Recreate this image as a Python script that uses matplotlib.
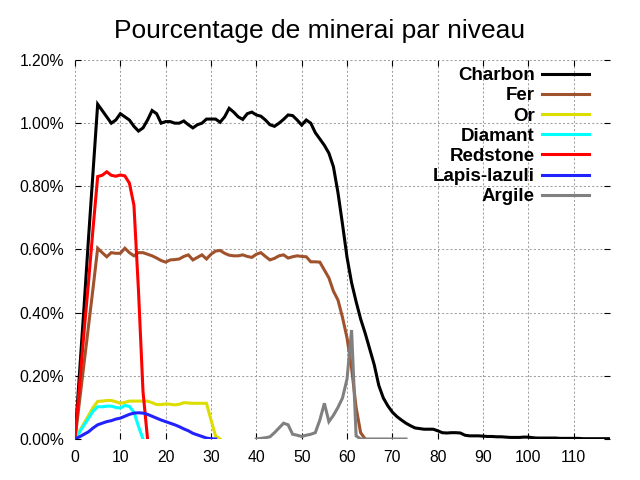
import numpy as np
import matplotlib
matplotlib.use("Agg")
import matplotlib.pyplot as plt
from matplotlib.ticker import FuncFormatter, MultipleLocator

plt.rcParams['font.family'] = ['Liberation Sans', 'DejaVu Sans']

# pourcentage par niveau (niveau 0 -> 118)
charbon = [
    0.0, 0.21, 0.42, 0.64, 0.85, 1.06, 1.04, 1.02, 1.00, 1.01,
    1.03, 1.02, 1.01, 0.99, 0.975, 0.985, 1.01, 1.04, 1.03, 1.00,
    1.005, 1.005, 1.00, 1.00, 1.007, 0.995, 0.985, 0.995, 1.00, 1.013,
    1.013, 1.013, 1.003, 1.02, 1.047, 1.035, 1.02, 1.012, 1.03, 1.035,
    1.026, 1.022, 1.01, 0.995, 0.99, 1.00, 1.012, 1.026, 1.024, 1.01,
    0.994, 1.01, 1.00, 0.97, 0.95, 0.93, 0.905, 0.862, 0.78, 0.68,
    0.575, 0.495, 0.435, 0.38, 0.335, 0.285, 0.235, 0.17, 0.13, 0.105,
    0.085, 0.071, 0.06, 0.05, 0.042, 0.035, 0.033, 0.031, 0.031, 0.031,
    0.026, 0.02, 0.019, 0.02, 0.02, 0.019, 0.012, 0.01, 0.01, 0.01,
    0.009, 0.008, 0.008, 0.007, 0.007, 0.006, 0.005, 0.005, 0.005, 0.006,
    0.006, 0.004, 0.003, 0.003, 0.003, 0.003, 0.003, 0.002, 0.002, 0.002,
    0.002, 0.002, 0.001, 0.001, 0.001, 0.001, 0.001, 0.001, 0.001,
]
fer = [
    0.0, 0.12, 0.24, 0.36, 0.48, 0.604, 0.59, 0.577, 0.59, 0.588,
    0.588, 0.604, 0.59, 0.58, 0.59, 0.59, 0.585, 0.58, 0.573, 0.565,
    0.56, 0.567, 0.568, 0.57, 0.578, 0.583, 0.567, 0.575, 0.583, 0.57,
    0.585, 0.595, 0.597, 0.588, 0.582, 0.58, 0.58, 0.583, 0.578, 0.575,
    0.585, 0.59, 0.578, 0.567, 0.572, 0.58, 0.583, 0.573, 0.577, 0.58,
    0.578, 0.577, 0.561, 0.561, 0.56, 0.535, 0.51, 0.468, 0.44, 0.385,
    0.32, 0.225, 0.10, 0.02, 0.0,
]
orr = [
    0.0, 0.025, 0.05, 0.075, 0.10, 0.119, 0.12, 0.122, 0.122, 0.118,
    0.113, 0.116, 0.12, 0.12, 0.12, 0.12, 0.12, 0.115, 0.109, 0.109,
    0.111, 0.11, 0.108, 0.11, 0.115, 0.114, 0.113, 0.113, 0.113, 0.113,
    0.06, 0.01, 0.0,
]
diamant = [
    0.0, 0.022, 0.044, 0.066, 0.088, 0.102, 0.102, 0.104, 0.104, 0.10,
    0.098, 0.106, 0.103, 0.085, 0.04, 0.0,
]
redstone = [
    0.0, 0.17, 0.34, 0.50, 0.67, 0.831, 0.835, 0.846, 0.835, 0.832,
    0.836, 0.833, 0.81, 0.74, 0.47, 0.15, 0.0,
]
lapis = [
    0.0, 0.007, 0.015, 0.023, 0.035, 0.045, 0.05, 0.055, 0.058, 0.063,
    0.066, 0.072, 0.078, 0.082, 0.083, 0.082, 0.078, 0.072, 0.066, 0.06,
    0.055, 0.05, 0.045, 0.039, 0.032, 0.026, 0.018, 0.013, 0.008, 0.003,
    0.001, 0.0,
]
# argile commence au niveau 40
argile_debut = 40
argile = [
    0.0, 0.002, 0.004, 0.007, 0.02, 0.035, 0.05, 0.045, 0.015, 0.012,
    0.008, 0.012, 0.015, 0.02, 0.06, 0.113, 0.055, 0.075, 0.10, 0.13,
    0.19, 0.345, 0.01, 0.0, 0.0, 0.0, 0.0, 0.0, 0.0, 0.0,
    0.0, 0.0, 0.0, 0.0,
]

series = [
    ("Charbon", charbon, 0, "#000000"),
    ("Fer", fer, 0, "#a0522d"),
    ("Or", orr, 0, "#dddd00"),
    ("Diamant", diamant, 0, "#00ffff"),
    ("Redstone", redstone, 0, "#ff0000"),
    ("Lapis-lazuli", lapis, 0, "#2222ff"),
    ("Argile", argile, argile_debut, "#808080"),
]

fig = plt.figure(figsize=(6.4, 4.8), dpi=100)
ax = fig.add_axes([75 / 640, 41 / 480, 535 / 640, 379 / 480])

for name, vals, start, color in series:
    x = np.arange(start, start + len(vals))
    ax.plot(x, vals, color=color, lw=2.2, label=name, solid_joinstyle='miter')

ax.set_xlim(0, 118)
ax.set_ylim(0, 1.2)
ax.xaxis.set_major_locator(MultipleLocator(10))
ax.yaxis.set_major_locator(MultipleLocator(0.2))
ax.yaxis.set_major_formatter(FuncFormatter(lambda v, p: f"{v:.2f}%"))

for s in ax.spines.values():
    s.set_visible(False)
ax.tick_params(direction='in', length=4, width=0.8, top=True, right=True,
               labelsize=11.3, pad=8)
ax.grid(True, color='#a0a0a0', lw=0.75, linestyle=(0, (2, 2)))
ax.set_axisbelow(True)

fig.text(0.5, 1 - 31 / 480, "Pourcentage de minerai par niveau",
         ha='center', va='center', fontsize=19)

leg = ax.legend(loc='upper right', bbox_to_anchor=(589 / 640, 1 - 67 / 480),
                bbox_transform=fig.transFigure, frameon=False, markerfirst=False,
                handlelength=2.5, handletextpad=0.38, labelspacing=0.165,
                borderpad=0, borderaxespad=0,
                prop={'weight': 'bold', 'size': 13.5})

fig.savefig("out.png", dpi=100)
